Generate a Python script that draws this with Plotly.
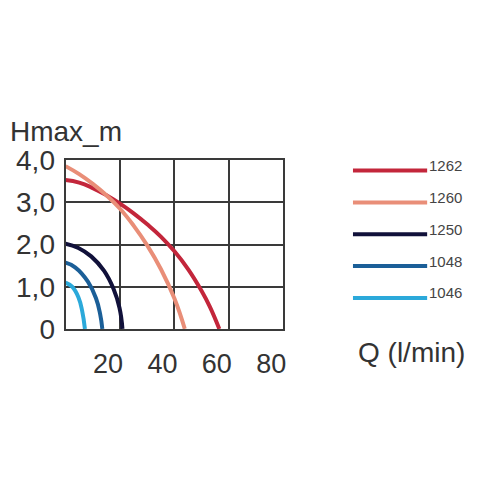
import plotly.graph_objects as go

# ---- data ----
series_names = ["1262", "1260", "1250", "1048", "1046"]
series_colors = ["#c3263b", "#e98e78", "#11113a", "#1b5f98", "#2ba9da"]

q_1262 = [0, 5, 10, 15, 20, 25, 30, 35, 40, 45, 50, 53, 56.5]
h_1262 = [3.53, 3.47, 3.34, 3.17, 2.97, 2.74, 2.48, 2.19, 1.84, 1.42, 0.9, 0.53, 0]

q_1260 = [0, 5, 10, 15, 20, 25, 30, 35, 40, 43.8]
h_1260 = [3.86, 3.67, 3.44, 3.17, 2.85, 2.45, 1.98, 1.42, 0.72, 0]

q_1250 = [0, 4.7, 9.4, 14.1, 17.6, 19.8, 20.9]
h_1250 = [2.02, 1.92, 1.72, 1.38, 0.95, 0.5, 0]

q_1048 = [0, 3.5, 8.2, 11.2, 12.7, 13.5]
h_1048 = [1.57, 1.46, 1.12, 0.72, 0.35, 0]

q_1046 = [0, 2.4, 4.7, 6.1, 7.1]
h_1046 = [1.10, 1.0, 0.75, 0.42, 0]

x_tickvals = [20, 40, 60, 80]
x_ticktext = ["20", "40", "60", "80"]
y_tickvals = [0, 1, 2, 3, 4]
y_ticktext = ["0", "1,0", "2,0", "3,0", "4,0"]

y_title = "Hmax_m"
x_title = "Q (l/min)"

curves = [(q_1262, h_1262), (q_1260, h_1260), (q_1250, h_1250),
          (q_1048, h_1048), (q_1046, h_1046)]

W = H = 492
def px_x(p):
    return p / W
def px_y(p):
    return 1 - p / H

FONT = "Liberation Sans, Arial, sans-serif"
TXT = "#333333"
GRID = "#3a3a3a"

fig = go.Figure()

for (q, h), name, col in zip(curves, series_names, series_colors):
    fig.add_trace(go.Scatter(x=q, y=h, mode="lines", name=name,
                             line=dict(color=col, width=4, shape="spline", smoothing=1.3),
                             xaxis="x", yaxis="y", showlegend=False, hoverinfo="skip"))

# legend drawn as data on a second hidden axis
for i, (name, col) in enumerate(zip(series_names, series_colors)):
    fig.add_trace(go.Scatter(x=[0, 1], y=[i, i], mode="lines",
                             line=dict(color=col, width=4),
                             xaxis="x2", yaxis="y2", showlegend=False, hoverinfo="skip"))
    fig.add_annotation(x=1, y=i, xref="x2", yref="y2", text=name,
                       xanchor="left", yanchor="middle", xshift=0, yshift=5,
                       showarrow=False, font=dict(family=FONT, size=15, color="#444444"))

fig.add_annotation(x=px_x(8), y=px_y(124), xref="paper", yref="paper", text=y_title,
                   xanchor="left", yanchor="middle", showarrow=False,
                   font=dict(family=FONT, size=28, color=TXT))
fig.add_annotation(x=px_x(358), y=px_y(360), xref="paper", yref="paper", text=x_title,
                   xanchor="left", yanchor="middle", showarrow=False,
                   font=dict(family=FONT, size=28, color=TXT))

fig.update_layout(
    width=W, height=H,
    margin=dict(l=0, r=0, t=0, b=0),
    paper_bgcolor="white", plot_bgcolor="white",
    showlegend=False,
    xaxis=dict(domain=[px_x(66), px_x(285)], range=[0, 80],
               tickvals=x_tickvals, ticktext=x_ticktext,
               showgrid=True, gridcolor=GRID, gridwidth=2,
               showline=True, linecolor=GRID, linewidth=2, mirror=True,
               zeroline=False, ticks="", ticklabelshift=-12, ticklabelstandoff=10,
               tickfont=dict(family=FONT, size=27, color=TXT), fixedrange=True),
    yaxis=dict(domain=[px_y(335), px_y(155)], range=[0, 4],
               tickvals=y_tickvals, ticktext=y_ticktext,
               showgrid=True, gridcolor=GRID, gridwidth=2,
               showline=True, linecolor=GRID, linewidth=2, mirror=True,
               zeroline=False, ticks="", ticklabelstandoff=3,
               tickfont=dict(family=FONT, size=28, color=TXT), fixedrange=True),
    xaxis2=dict(domain=[px_x(355), px_x(430)], range=[0, 1], anchor="y2",
                visible=False, fixedrange=True),
    yaxis2=dict(domain=[px_y(319), px_y(149)], range=[4.5, -0.5], anchor="x2",
                visible=False, fixedrange=True),
)

fig.write_html("out.html", post_script="document.body.style.margin='0';",
               config={"displayModeBar": False})
